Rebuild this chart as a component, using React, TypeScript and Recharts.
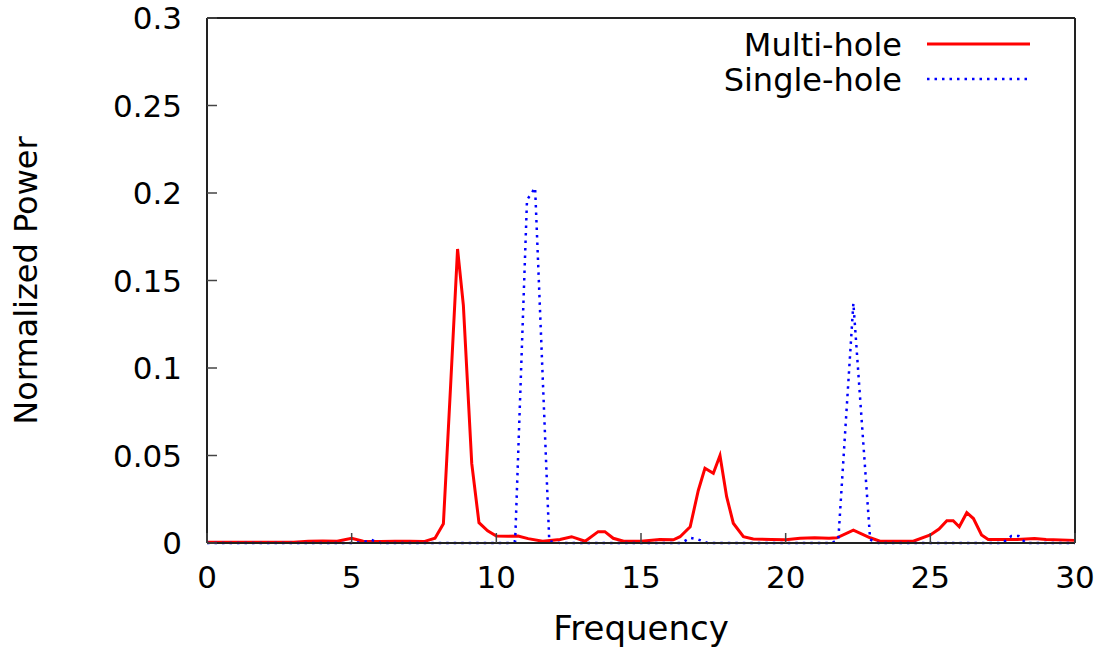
import React from 'react';
import { LineChart, Line, XAxis, YAxis, Legend } from 'recharts';

const multiFreq = [0, 1, 2, 3, 3.5, 4.0, 4.5, 5.0, 5.4, 6.0, 6.5, 7.0, 7.5, 7.88, 8.17, 8.42, 8.66, 8.86, 9.15, 9.4, 9.7, 10.0, 10.4, 10.75, 11.1, 11.6, 12.2, 12.6, 13.07, 13.52, 13.75, 14.04, 14.4, 15.0, 15.65, 16.12, 16.35, 16.7, 16.98, 17.21, 17.5, 17.73, 17.96, 18.19, 18.54, 18.88, 19.5, 20.0, 20.5, 21.0, 21.5, 21.77, 22.34, 22.92, 23.26, 24.41, 25.0, 25.3, 25.57, 25.79, 26.0, 26.26, 26.49, 26.77, 27.0, 28.0, 28.6, 29.0, 30.0];
const multiPower = [0.0005, 0.0005, 0.0005, 0.0005, 0.001, 0.0012, 0.001, 0.0027, 0.001, 0.0008, 0.001, 0.001, 0.0008, 0.0027, 0.011, 0.09, 0.168, 0.136, 0.0455, 0.0116, 0.007, 0.004, 0.0038, 0.004, 0.0025, 0.001, 0.002, 0.0036, 0.001, 0.0065, 0.0065, 0.0027, 0.001, 0.001, 0.002, 0.0018, 0.0036, 0.0093, 0.03, 0.0427, 0.0398, 0.05, 0.0265, 0.0113, 0.0036, 0.0023, 0.002, 0.0018, 0.0027, 0.003, 0.0027, 0.003, 0.0074, 0.003, 0.001, 0.001, 0.0046, 0.008, 0.0127, 0.0127, 0.0093, 0.0173, 0.014, 0.0046, 0.002, 0.002, 0.0025, 0.002, 0.0015];

const singleFreq = [0, 5.0, 5.4, 5.69, 6.0, 10.4, 10.65, 11.06, 11.34, 11.83, 12.2, 16.4, 16.7, 16.98, 17.3, 21.6, 21.82, 22.34, 22.92, 23.2, 27.5, 27.8, 28.05, 28.3, 30];
const singlePower = [0, 0, 0.0005, 0.0017, 0, 0, 0.001, 0.196, 0.203, 0.001, 0, 0, 0.003, 0.002, 0, 0, 0.002, 0.137, 0.002, 0, 0, 0.004, 0.004, 0, 0];

const xTicks = [0, 5, 10, 15, 20, 25, 30];
const yTicks = [0, 0.05, 0.1, 0.15, 0.2, 0.25, 0.3];
const yTickLabels = ['0', '0.05', '0.1', '0.15', '0.2', '0.25', '0.3'];

const multiData = multiFreq.map((f, i) => ({ f, v: multiPower[i] }));
const singleData = singleFreq.map((f, i) => ({ f, v: singlePower[i] }));

const FONT = 'DejaVu Sans';
const TICK_COLOR = '#444';
const FRAME = '#222';

const LeftTick = (props: any) => {
  const { x, y, payload } = props;
  const idx = yTicks.indexOf(payload.value);
  const label = idx >= 0 ? yTickLabels[idx] : String(payload.value);
  return (
    <g>
      <line x1={x + 25} x2={x + 35} y1={y} y2={y} stroke={TICK_COLOR} strokeWidth={1.5} />
      <text x={x} y={y} dy="0.36em" textAnchor="end" fontSize={31} fontFamily={FONT} fill="#000">{label}</text>
    </g>
  );
};

const RightTick = (props: any) => {
  const { x, y } = props;
  return <line x1={x - 11} x2={x - 1} y1={y} y2={y} stroke={TICK_COLOR} strokeWidth={1.5} />;
};

const BottomTick = (props: any) => {
  const { x, y, payload } = props;
  return (
    <g>
      <line x1={x} x2={x} y1={y - 23} y2={y - 33} stroke={TICK_COLOR} strokeWidth={1.5} />
      <text x={x} y={y} dy="0.72em" textAnchor="middle" fontSize={31} fontFamily={FONT} fill="#000">{String(payload.value)}</text>
    </g>
  );
};

const TopTick = (props: any) => {
  const { x, y } = props;
  return <line x1={x} x2={x} y1={y} y2={y + 10} stroke={TICK_COLOR} strokeWidth={1.5} />;
};

const LegendContent = (props: any) => {
  const payload = props.payload || [];
  return (
    <svg width={360} height={80} style={{ display: 'block' }}>
      {payload.map((p: any, i: number) => {
        const cy = i === 0 ? 24 : 59;
        const dashed = i === 1;
        return (
          <g key={i}>
            <text x={202} y={cy} dy="0.36em" textAnchor="end" fontSize={32} fontFamily={FONT} fill="#000">{p.value}</text>
            <line x1={227} x2={330} y1={cy} y2={cy} stroke={p.color} strokeWidth={dashed ? 2.5 : 3} strokeDasharray={dashed ? '2.5 5' : undefined} />
          </g>
        );
      })}
    </svg>
  );
};

export default function App() {
  return (
    <div style={{ position: 'absolute', left: 0, top: 0, width: 1108, height: 653, background: '#fff', fontFamily: FONT }}>
      <LineChart width={1108} height={653} margin={{ top: 17, right: 32, bottom: 0, left: 0 }}>
        <XAxis
          xAxisId="b"
          dataKey="f"
          type="number"
          domain={[0, 30]}
          ticks={xTicks}
          interval={0}
          orientation="bottom"
          height={110}
          tickSize={0}
          tickMargin={23}
          tickLine={false}
          axisLine={{ stroke: FRAME, strokeWidth: 2 }}
          tick={<BottomTick />}
          label={{ value: 'Frequency', position: 'insideBottom', offset: 13, fill: '#000', fontSize: 34, fontFamily: FONT }}
        />
        <XAxis
          xAxisId="t"
          type="number"
          domain={[0, 30]}
          ticks={xTicks}
          interval={0}
          orientation="top"
          height={1}
          tickSize={0}
          tickMargin={0}
          tickLine={false}
          axisLine={{ stroke: FRAME, strokeWidth: 2 }}
          tick={<TopTick />}
        />
        <YAxis
          yAxisId="l"
          type="number"
          domain={[0, 0.3]}
          ticks={yTicks}
          interval={0}
          orientation="left"
          width={207}
          tickSize={0}
          tickMargin={25}
          tickLine={false}
          axisLine={{ stroke: FRAME, strokeWidth: 2 }}
          tick={<LeftTick />}
          label={{ value: 'Normalized Power', angle: -90, position: 'insideLeft', offset: 26, dx: 0, fill: '#000', fontSize: 32, fontFamily: FONT, style: { textAnchor: 'middle' } }}
        />
        <YAxis
          yAxisId="r"
          type="number"
          domain={[0, 0.3]}
          ticks={yTicks}
          interval={0}
          orientation="right"
          width={1}
          tickSize={0}
          tickMargin={0}
          tickLine={false}
          axisLine={{ stroke: FRAME, strokeWidth: 2 }}
          tick={<RightTick />}
        />
        <Legend
          layout="vertical"
          align="center"
          verticalAlign="middle"
          wrapperStyle={{ position: 'absolute', left: 700, top: 20, width: 360, height: 80 }}
          content={<LegendContent />}
        />
        <Line
          xAxisId="b"
          yAxisId="l"
          data={multiData}
          dataKey="v"
          name="Multi-hole"
          type="linear"
          stroke="#ff0000"
          strokeWidth={3}
          dot={false}
          activeDot={false}
          isAnimationActive={false}
        />
        <Line
          xAxisId="b"
          yAxisId="l"
          data={singleData}
          dataKey="v"
          name="Single-hole"
          type="linear"
          stroke="#0000ff"
          strokeWidth={2.5}
          strokeDasharray="2.5 5"
          dot={false}
          activeDot={false}
          isAnimationActive={false}
        />
      </LineChart>
    </div>
  );
}
